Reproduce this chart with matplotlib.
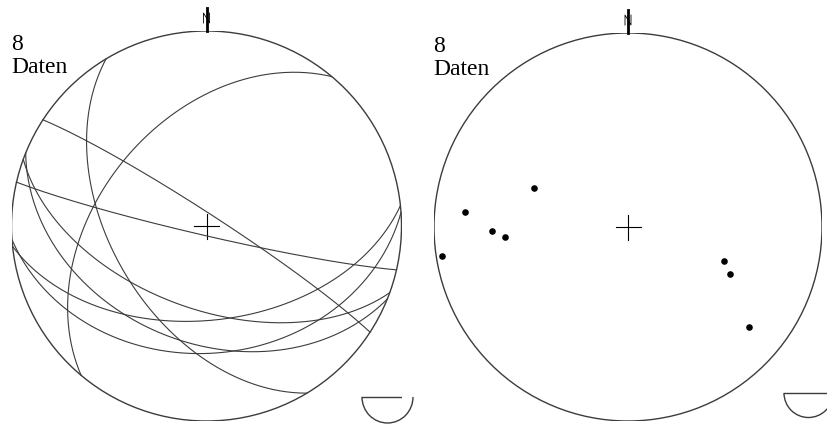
import numpy as np
import matplotlib.pyplot as plt
from matplotlib.patches import Circle, Arc

# planes (dip direction, dip) for the great circle net
dip_dirs = [33, 193, 239, 310, 176, 174, 202, 200]
dips = [85, 86, 50, 45, 35, 50, 40, 55]

# poles / lines (trend, plunge) for the point net
trends = [292.5, 275.3, 268.3, 265.4, 261.1, 109.5, 114.7, 129.6]
plunges = [46.4, 16.8, 30.5, 36.5, 3.4, 46.4, 41.6, 20.2]

W, H = 827, 425
LINE = '#3c3c3c'


def schmidt(trend, plunge):
    t = np.radians(trend)
    p = np.radians(plunge)
    r = np.sqrt(2) * np.sin((np.pi / 2 - p) / 2)
    return r * np.sin(t), r * np.cos(t)


def great_circle(dd, dip, n=200):
    s = np.radians(dd - 90)
    d = np.radians(dd)
    a = np.radians(dip)
    sv = np.array([np.sin(s), np.cos(s), 0.0])
    dv = np.array([np.sin(d) * np.cos(a), np.cos(d) * np.cos(a), np.sin(a)])
    ang = np.linspace(0, np.pi, n)
    v = np.outer(np.cos(ang), sv) + np.outer(np.sin(ang), dv)
    plunge = np.degrees(np.arcsin(np.clip(v[:, 2], -1, 1)))
    trend = np.degrees(np.arctan2(v[:, 0], v[:, 1]))
    return schmidt(trend, plunge)


def make_net(fig, cx, cy, R):
    ax = fig.add_axes([(cx - R) / W, (H - cy - R) / H, 2 * R / W, 2 * R / H])
    ax.set_xlim(-1, 1)
    ax.set_ylim(-1, 1)
    ax.axis('off')
    ax.add_patch(Circle((0, 0), 1, fill=False, ec=LINE, lw=1.0))
    c = 12.5 / R
    ax.plot([-c, c], [0, 0], color='black', lw=0.8)
    ax.plot([0, 0], [-c, c], color='black', lw=0.8)
    # north marker
    ax.plot([0, 0], [1, 1 + 23 / R], color='black', lw=2.0, clip_on=False)
    ax.plot([-3 / R, -3 / R, 3 / R, 3 / R], [1 + 8 / R, 1 + 18 / R, 1 + 8 / R, 1 + 18 / R],
            color='black', lw=0.6, clip_on=False)
    ax.text(-1 - 0.5 / R, 1 - 3 / R, '8', family='Liberation Serif', fontsize=17,
            ha='left', va='top', clip_on=False)
    ax.text(-1 - 0.5 / R, 1 - 26 / R, 'Daten', family='Liberation Serif', fontsize=17,
            ha='left', va='top', clip_on=False)
    return ax


fig = plt.figure(figsize=(W / 100, H / 100), dpi=100)

# left: great circles
axl = make_net(fig, 206.5, 226, 195)
for dd, dp in zip(dip_dirs, dips):
    x, y = great_circle(dd, dp)
    axl.plot(x, y, color=LINE, lw=0.8)
R = 195
axl.plot([(362 - 206.5) / R, (413 - 206.5) / R], [-(397 - 226) / R] * 2, color=LINE, lw=1)
axl.add_patch(Arc(((387.5 - 206.5) / R, -(397 - 226) / R), 51 / R, 52 / R,
                  theta1=180, theta2=360, color=LINE, lw=1, clip_on=False))

# right: poles
axr = make_net(fig, 628, 227, 194)
px, py = schmidt(np.array(trends), np.array(plunges))
axr.scatter(px, py, s=14, color='black', zorder=3)
R = 194
axr.plot([(784 - 628) / R, (835 - 628) / R], [-(393 - 227) / R] * 2, color=LINE, lw=1,
         clip_on=False)
axr.add_patch(Arc(((808.5 - 628) / R, -(393 - 227) / R), 49 / R, 49 / R,
                  theta1=180, theta2=360, color=LINE, lw=1, clip_on=False))

fig.savefig('out.png', dpi=100)
